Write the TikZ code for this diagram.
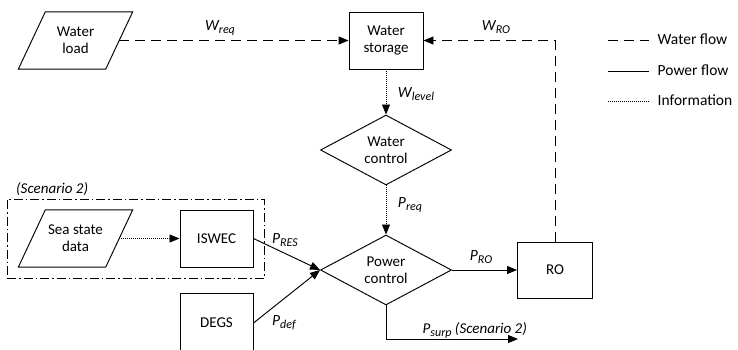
\documentclass[tikz,border=0pt]{standalone}
\usepackage{fontspec}
\setmainfont{Carlito}
\usetikzlibrary{arrows.meta,shapes.geometric}

% frame of a slanted (parallelogram) input block around a plain node
\newcommand\slantframe[1]{%
  \draw[line width=0.95pt] ([xshift=13.5pt]#1.north east) -- ([xshift=-13.5pt]#1.south east)
    -- ([xshift=-13.5pt]#1.south west) -- ([xshift=13.5pt]#1.north west) -- cycle;}
% subscript of a flow variable
\newcommand\flowsub[1]{\raisebox{-3pt}{\fontsize{12}{12}\selectfont #1}}

\begin{document}
\begin{tikzpicture}[x=1pt,y=-1pt,
  font=\fontsize{15}{17}\selectfont,
  box/.style={draw, line width=0.95pt, minimum width=74pt, minimum height=57pt,
    inner sep=0pt, align=center},
  decision/.style={diamond, draw, line width=0.95pt, minimum width=131pt,
    minimum height=67pt, inner sep=0pt, align=center},
  slant/.style={minimum width=87pt, minimum height=57pt, inner sep=0pt, align=center},
  tip/.style={-{Triangle[length=10pt,width=8pt]}},
  water/.style={tip, line width=0.95pt, dash pattern=on 10pt off 6pt},
  power/.style={tip, line width=0.95pt},
  info/.style={tip, line width=0.9pt, dash pattern=on 1pt off 1pt},
  lbl/.style={anchor=base, inner sep=0pt, font=\fontsize{15.5}{17}\selectfont\itshape},
  legtext/.style={anchor=base west, inner sep=0pt, font=\fontsize{15.5}{17}\selectfont}]

\useasboundingbox (0,0) rectangle (738,350);

% blocks
\node[slant] (wl) at (75.5,40.5) {Water\\load};
\slantframe{wl}
\node[box] (ws) at (386,40.5) {Water\\storage};
\node[decision] (wc) at (386,150) {Water\\control};
\node[decision] (pc) at (386,270) {Power\\control};
\node[box, minimum width=75pt, minimum height=56pt] (ro) at (555,270) {RO};
\node[slant] (ssd) at (75.5,238.5) {Sea state\\data};
\slantframe{ssd}
\node[box, minimum width=73pt] (isw) at (216.5,238.5) {ISWEC};
\node[box, minimum width=73pt, minimum height=60pt] (degs) at (216.5,323) {DEGS};

% scenario 2 group
\node[draw, line width=0.9pt, dash pattern=on 9pt off 3pt on 1.5pt off 3pt,
  minimum width=257pt, minimum height=79pt, inner sep=0pt] (grp) at (135.5,238.5) {};
\node[lbl, anchor=base west, font=\fontsize{15}{17}\selectfont\itshape] (grplbl) at (16,193) {(Scenario 2)};

% water flows
\draw[water] (wl.east) -- (ws.west);
\draw[water] (ro.north) |- (ws.east);
% information
\draw[info] (ws.south) -- (wc.north);
\draw[info] (wc.south) -- (pc.north);
\draw[info] (ssd.east) -- (isw.west);
% power flows
\draw[power] (isw.east) -- (pc.west);
\draw[power] (degs.east) -- (pc.west);
\draw[power] (pc.east) -- (ro.west);
\coordinate (surp) at (518,339);
\draw[power] (pc.south) |- (surp);

% flow labels
\node[lbl] (lwreq) at (220,31) {W\flowsub{req}};
\node[lbl] (lwro) at (496,31) {W\flowsub{RO}};
\node[lbl] (lwlev) at (416,97.5) {W\flowsub{level}};
\node[lbl] (lpreq) at (410,207) {P\flowsub{req}};
\node[lbl] (lpro) at (481,260) {P\flowsub{RO}};
\node[lbl] (lpres) at (285,243.5) {P\flowsub{RES}};
\node[lbl] (lpdef) at (284,325) {P\flowsub{def}};
\node[lbl, anchor=base west, font=\fontsize{15}{17}\selectfont\itshape] (lpsurp) at (422.5,333) {P\flowsub{surp} (Scenario 2)};

% legend
\coordinate (la1) at (607.5,40.5); \coordinate (lb1) at (649,40.5);
\coordinate (la2) at (607.5,71);   \coordinate (lb2) at (649,71);
\coordinate (la3) at (607.5,101);  \coordinate (lb3) at (649,101);
\draw[line width=0.95pt, dash pattern=on 10pt off 6pt] (la1) -- (lb1);
\draw[line width=0.95pt] (la2) -- (lb2);
\draw[line width=0.7pt, dash pattern=on 1pt off 1pt] (la3) -- (lb3);
\node[legtext] (lg1) at (657.5,45) {Water flow};
\node[legtext] (lg2) at (657.5,75.5) {Power flow};
\node[legtext] (lg3) at (657.5,105.5) {Information};
\end{tikzpicture}
\end{document}
